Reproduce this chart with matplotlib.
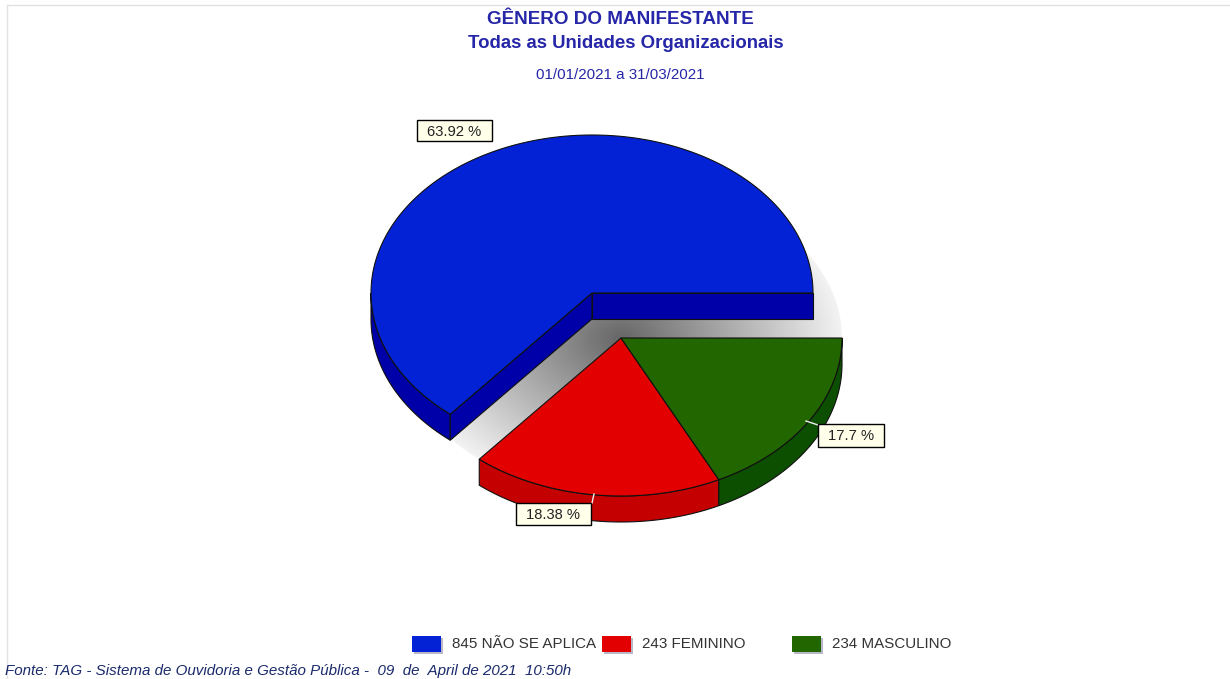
import numpy as np
import matplotlib
matplotlib.use("Agg")
import matplotlib.pyplot as plt
from matplotlib.patches import Polygon, Rectangle

# Data
categories = ["NÃO SE APLICA", "FEMININO", "MASCULINO"]
counts = [845, 243, 234]
pct_labels = ["63.92 %", "18.38 %", "17.7 %"]
title_lines = ["GÊNERO DO MANIFESTANTE", "Todas as Unidades Organizacionais"]
period = "01/01/2021 a 31/03/2021"
footer = "Fonte: TAG - Sistema de Ouvidoria e Gestão Pública -  09  de  April de 2021  10:50h"

# Style / layout
top_colors = ["#0322D6", "#E20000", "#226600"]
side_colors = ["#0000A8", "#C40000", "#0C4F00"]
centers = [(592, 293), (621, 338), (621, 338)]
RX, RY, DEPTH = 221, 158, 26
INK = "#2626A8"
FONT = "Liberation Sans"

fig = plt.figure(figsize=(12.3, 6.79), dpi=100, facecolor="white")
ax = fig.add_axes([0, 0, 1, 1])
ax.set_axis_off()


def arc(center, a0, a1, dy=0, n=200):
    t = np.radians(np.linspace(a0, a1, n))
    return np.column_stack([center[0] + RX * np.cos(t), center[1] - RY * np.sin(t) + dy])


def wedge(center, a0, a1):
    return np.vstack([[center], arc(center, a0, a1)])


fracs = np.array(counts) / sum(counts)
edges = np.concatenate([[0], np.cumsum(fracs) * 360])

# frame of the page
ax.plot([7, 7], [5, 679], color="#E2E2E2", lw=1)
ax.plot([7, 1230], [5, 5], color="#E2E2E2", lw=1)

# drop shadow of the large slice, falling on the lower centre
shadow = Polygon(wedge(centers[1], edges[0], edges[1]), closed=True, fc="none", ec="none",
                 transform=ax.transData)
ax.add_patch(shadow)
yy, xx = np.mgrid[100:520, 360:850]
rr = np.hypot((xx - centers[1][0]) / RX, (yy - centers[1][1]) / RY)
shade = np.clip(0.40 + 0.55 * rr, 0, 0.95)
im = ax.imshow(shade, cmap="gray", vmin=0, vmax=1, extent=(360, 850, 520, 100),
               interpolation="bilinear", aspect="auto", zorder=1)
im.set_clip_path(shadow)

# side walls, then tops
for i in range(3):
    a0, a1 = edges[i], edges[i + 1]
    c = centers[i]
    lo, hi = max(a0, 180), min(a1, 360)
    if hi > lo:
        rim = arc(c, lo, hi)
        low = arc(c, lo, hi, DEPTH)
        ax.add_patch(Polygon(np.vstack([rim, low[::-1]]), closed=True, fc=side_colors[i],
                             ec="#101010", lw=0.8, zorder=2))
    if i == 0:
        for ang in (a0, a1):
            p = arc(c, ang, ang, n=1)[0]
            face = [c, p, (p[0], p[1] + DEPTH), (c[0], c[1] + DEPTH)]
            ax.add_patch(Polygon(face, closed=True, fc=side_colors[i], ec="#101010",
                                 lw=0.8, zorder=2))
    ax.add_patch(Polygon(wedge(c, a0, a1), closed=True, fc=top_colors[i], ec="#101010",
                         lw=0.8, zorder=3))

# value labels with short leaders
label_boxes = [(417, 120, 75, 21), (516, 503, 75, 22), (818, 424, 66, 23)]
leaders = [None, ((594, 494), (592, 503)), ((806, 421), (818, 425))]
for txt, (x, y, w, h), lead in zip(pct_labels, label_boxes, leaders):
    if lead:
        ax.plot(*zip(*lead), color="#F0F0F0", lw=1, zorder=4)
    ax.add_patch(Rectangle((x, y), w, h, fc="#FFFFEA", ec="black", lw=1, zorder=5))
    ax.text(x + w / 2, y + h / 2 + 1, txt, ha="center", va="center", fontsize=10.6, family=FONT,
            color="#222222", zorder=6)

# titles
ax.text(620, 20, title_lines[0], ha="center", va="center", fontsize=13.6, fontweight="bold",
        family=FONT, color=INK)
ax.text(626, 44, title_lines[1], ha="center", va="center", fontsize=13.4, fontweight="bold",
        family=FONT, color=INK)
ax.text(620, 75, period, ha="center", va="center", fontsize=10.9, family=FONT, color=INK)

# legend
swatch_x = [412, 602, 792]
for x, col, n, name in zip(swatch_x, top_colors, counts, categories):
    ax.add_patch(Rectangle((x + 2, 638), 29, 16, fc="#B8B8C8", ec="none", zorder=2))
    ax.add_patch(Rectangle((x, 636), 29, 16, fc=col, ec="none", zorder=3))
    ax.text(x + 40, 644, f"{n} {name}", ha="left", va="center", fontsize=10.9, family=FONT,
            color="#333333")

ax.text(5, 671, footer, ha="left", va="center", fontsize=10.9, style="italic", family=FONT,
        color="#1A2A6C")

ax.set_xlim(0, 1230)
ax.set_ylim(679, 0)
fig.savefig("out.png", dpi=100, facecolor="white")
